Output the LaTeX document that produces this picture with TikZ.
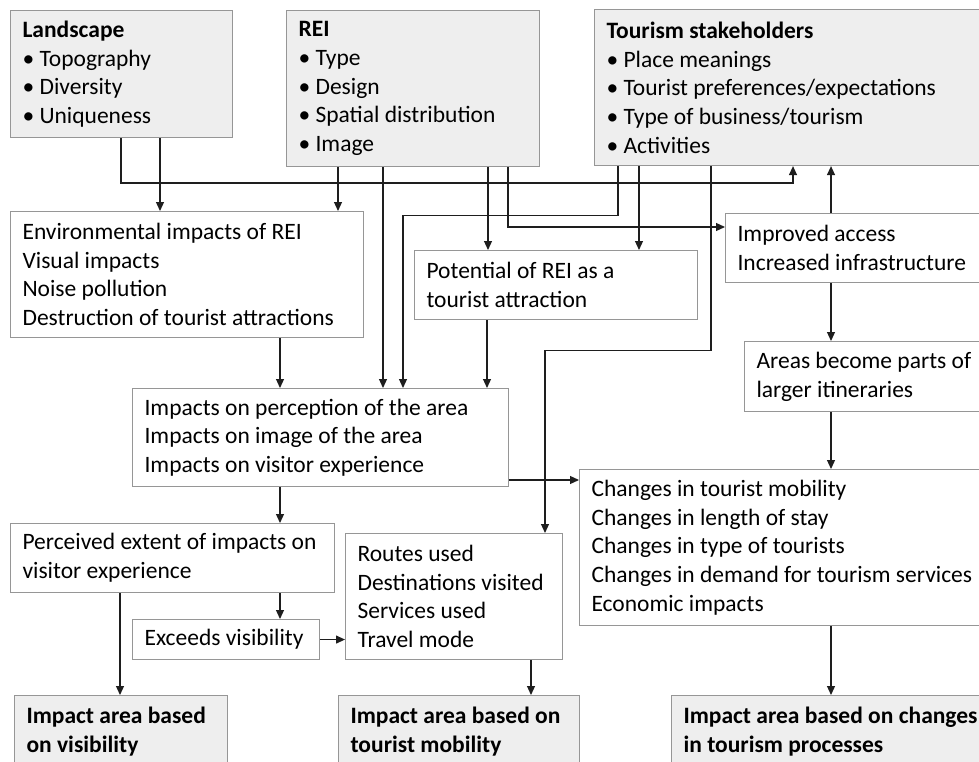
\documentclass[tikz,border=0pt]{standalone}
\usepackage{fontspec}
\setmainfont{Carlito}
\usetikzlibrary{arrows.meta}
\definecolor{boxline}{RGB}{150,150,150}
\definecolor{boxfill}{RGB}{238,238,238}
\definecolor{wire}{RGB}{30,30,30}
\newcommand{\panel}[7]{\node[#1, minimum width=#4pt, minimum height=#5pt, text width=#4pt-24pt] (#6) at (#2,#3) {\spaceskip=0pt\relax #7};}

\begin{document}
\begin{tikzpicture}[
      x=1pt, y=-1pt,
      every node/.style={rectangle, draw=boxline, line width=1.1pt, anchor=north west, align=left, inner xsep=12pt, inner ysep=0pt, font=\fontsize{23.5}{28.7}\selectfont},
      factor/.style={fill=boxfill},
      outcome/.style={fill=boxfill},
      plain/.style={fill=white},
      pointer/.style={draw=wire, line width=1.2pt, -{Triangle[length=9pt,width=8pt]}}
      ]
      \clip (0,0) rectangle (979,762);
      \panel{factor}{10}{10}{222}{127}{land}{\textbf{Landscape}\\ \textbullet\ Topography\\ \textbullet\ Diversity\\ \textbullet\ Uniqueness}
      \panel{factor}{286}{10}{253}{156}{rei}{\textbf{REI}\\ \textbullet\ Type\\ \textbullet\ Design\\ \textbullet\ Spatial distribution\\ \textbullet\ Image}
      \panel{factor}{594}{9}{400}{156}{tour}{\textbf{Tourism stakeholders}\\ \textbullet\ Place meanings\\ \textbullet\ Tourist preferences/expectations\\ \textbullet\ Type of business/tourism\\ \textbullet\ Activities}
      \panel{plain}{10}{211}{353}{126}{env}{Environmental impacts of REI\\ Visual impacts\\ Noise pollution\\ Destruction of tourist attractions}
      \panel{plain}{414}{250}{283}{69}{pot}{Potential of REI as a\\ tourist attraction}
      \panel{plain}{725}{213}{270}{69}{impr}{Improved access\\ Increased infrastructure}
      \panel{plain}{132}{388}{376}{98}{perc}{Impacts on perception of the area\\ Impacts on image of the area\\ Impacts on visitor experience}
      \panel{plain}{744}{341}{250}{70}{areas}{Areas become parts of\\ larger itineraries}
      \panel{plain}{579}{469}{420}{156}{chg}{Changes in tourist mobility\\ Changes in length of stay\\ Changes in type of tourists\\ Changes in demand for tourism services\\ Economic impacts}
      \panel{plain}{10}{523}{324}{69}{extent}{Perceived extent of impacts on\\ visitor experience}
      \panel{plain}{132}{619}{187}{40}{exceed}{Exceeds visibility}
      \panel{plain}{345}{533}{217}{126}{routes}{Routes used\\ Destinations visited\\ Services used\\ Travel mode}
      \panel{outcome}{14}{695}{213}{72}{vis}{\textbf{Impact area based}\\ \textbf{on visibility}}
      \panel{outcome}{338}{695}{241}{72}{mob}{\textbf{Impact area based on}\\ \textbf{tourist mobility}}
      \panel{outcome}{671}{695}{330}{72}{proc}{\textbf{Impact area based on changes}\\ \textbf{in tourism processes}}
      \coordinate (feed) at ([yshift=-11pt]chg.north west);
      \draw[pointer] ([xshift=111pt]land.south west) -- ++(0,45) -| ([xshift=199pt]tour.south west);
      \draw[pointer] ([xshift=150pt]land.south west) -- ([xshift=150pt]env.north west);
      \draw[pointer] ([xshift=52pt]rei.south west) -- ([xshift=328pt]env.north west);
      \draw[pointer] ([xshift=97pt]rei.south west) -- ([xshift=251pt]perc.north west);
      \draw[pointer] ([xshift=202pt]rei.south west) -- ([xshift=74pt]pot.north west);
      \draw[pointer] ([xshift=222pt]rei.south west) |- ([yshift=-14pt]impr.north west);
      \draw[pointer] ([xshift=24pt]tour.south west) -- ++(0,49) -| ([xshift=271pt]perc.north west);
      \draw[pointer] ([xshift=45pt]tour.south west) -- ([xshift=225pt]pot.north west);
      \draw[pointer] ([xshift=117pt]tour.south west) -- ++(0,184) -| ([xshift=200pt]routes.north west);
      \draw[pointer] ([xshift=106pt]impr.north west) -- ([xshift=237pt]tour.south west);
      \draw[pointer] ([xshift=106pt]impr.south west) -- ([xshift=87pt]areas.north west);
      \draw[pointer] ([xshift=87pt]areas.south west) -- ([xshift=252pt]chg.north west);
      \draw[pointer] ([xshift=270pt]env.south west) -- ([xshift=148pt]perc.north west);
      \draw[pointer] ([xshift=73pt]pot.south west) -- ([xshift=355pt]perc.north west);
      \draw[pointer] (feed -| perc.east) -- (feed);
      \draw[pointer] ([xshift=148pt]perc.south west) -- ([xshift=270pt]extent.north west);
      \draw[pointer] ([xshift=270pt]extent.south west) -- ([xshift=148pt]exceed.north west);
      \draw[pointer] ([xshift=110pt]extent.south west) -- ([xshift=106pt]vis.north west);
      \draw[pointer] (exceed.east) -- (exceed.east -| routes.west);
      \draw[pointer] ([xshift=186pt]routes.south west) -- ([xshift=193pt]mob.north west);
      \draw[pointer] ([xshift=252pt]chg.south west) -- ([xshift=160pt]proc.north west);
    \end{tikzpicture}
\end{document}
